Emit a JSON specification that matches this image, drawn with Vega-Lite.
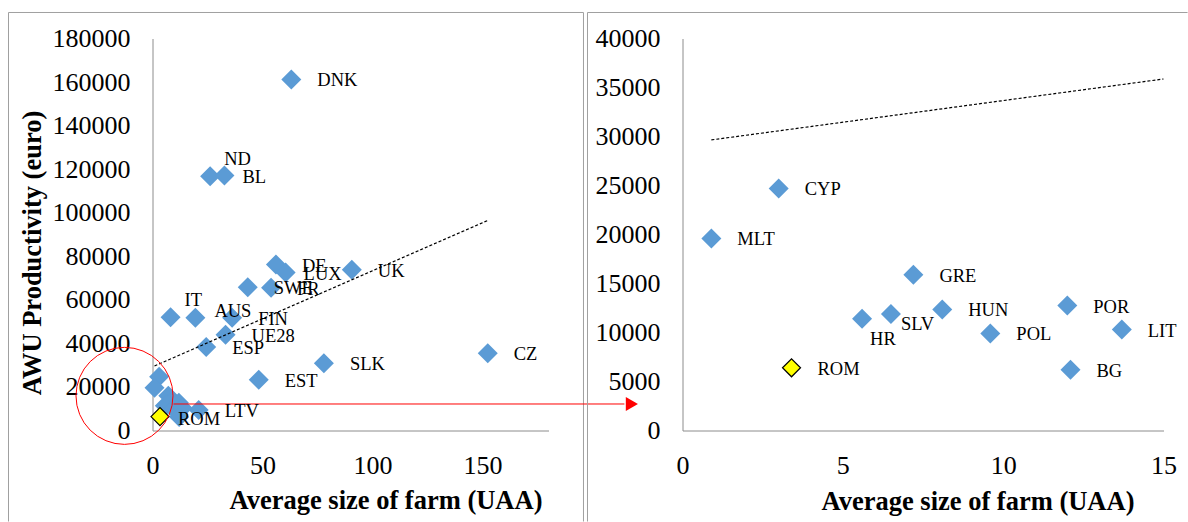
{
  "$schema": "https://vega.github.io/schema/vega-lite/v6.json",
  "background": "white",
  "padding": {"left": 7.5, "top": 11.5, "right": 0, "bottom": 0},
  "bounds": "flush",
  "spacing": 134,
  "config": {
    "view": {"stroke": null},
    "font": "Liberation Serif",
    "axis": {
      "ticks": false,
      "grid": false,
      "domainColor": "#8c8c8c",
      "domainWidth": 1,
      "labelFont": "Liberation Serif",
      "labelFontSize": 26,
      "labelColor": "#000000",
      "labelFlush": false,
      "labelOverlap": false,
      "titleFont": "Liberation Serif",
      "titleFontSize": 26.5,
      "titleFontWeight": "bold",
      "titleColor": "#000000"
    },
    "text": {"font": "Liberation Serif", "fontSize": 18.5, "color": "#000000", "align": "left", "baseline": "middle"}
  },
  "datasets": {
    "farms": [
      {"country": "DNK", "size": 63.1, "productivity": 161200},
      {"country": "ND", "size": 26.2, "productivity": 116800},
      {"country": "BL", "size": 32.7, "productivity": 117100},
      {"country": "DE", "size": 56.1, "productivity": 76200},
      {"country": "LUX", "size": 60.5, "productivity": 72600},
      {"country": "UK", "size": 90.6, "productivity": 73800},
      {"country": "SWE", "size": 43.3, "productivity": 65800},
      {"country": "FR", "size": 53.9, "productivity": 65500},
      {"country": "IT", "size": 8.2, "productivity": 52000},
      {"country": "AUS", "size": 19.5, "productivity": 51800},
      {"country": "FIN", "size": 36.2, "productivity": 51800},
      {"country": "UE28", "size": 33.2, "productivity": 44000},
      {"country": "ESP", "size": 24.4, "productivity": 38300},
      {"country": "SLK", "size": 77.9, "productivity": 30900},
      {"country": "CZ", "size": 152.4, "productivity": 35500},
      {"country": "EST", "size": 48.3, "productivity": 23300},
      {"country": "LTV", "size": 21.0, "productivity": 9400},
      {"country": "CYP", "size": 3.0, "productivity": 24700},
      {"country": "MLT", "size": 0.9, "productivity": 19600},
      {"country": "GRE", "size": 7.2, "productivity": 15900},
      {"country": "HR", "size": 5.6, "productivity": 11400},
      {"country": "SLV", "size": 6.5, "productivity": 11900},
      {"country": "HUN", "size": 8.1, "productivity": 12350},
      {"country": "POL", "size": 9.6, "productivity": 9900},
      {"country": "POR", "size": 12.0, "productivity": 12750},
      {"country": "LIT", "size": 13.7, "productivity": 10300},
      {"country": "BG", "size": 12.1, "productivity": 6200},
      {"country": "ROM", "size": 3.4, "productivity": 6400}
    ],
    "trendAll": [
      {"size": 0.9, "productivity": 29650},
      {"size": 152.4, "productivity": 96460}
    ],
    "trendSmall": [
      {"size": 0.9, "productivity": 29650},
      {"size": 15, "productivity": 35870}
    ]
  },
  "hconcat": [
    {
      "width": 396,
      "height": 392,
      "data": {"name": "farms"},
      "layer": [
        {
          "data": {"values": [{}]},
          "mark": {"type": "rule", "stroke": "#a0a0a0", "strokeWidth": 1},
          "encoding": {"x": {"datum": -65.45}, "y": {"datum": 191940}, "y2": {"datum": -41790}}
        },
        {
          "data": {"values": [{}]},
          "mark": {"type": "rule", "stroke": "#a0a0a0", "strokeWidth": 1},
          "encoding": {"x": {"datum": 195.9}, "y": {"datum": 191940}, "y2": {"datum": -41790}}
        },
        {
          "data": {"values": [{}]},
          "mark": {"type": "rule", "stroke": "#a0a0a0", "strokeWidth": 1},
          "encoding": {"x": {"datum": -65.45}, "x2": {"datum": 195.9}, "y": {"datum": 191940}}
        },
        {
          "transform": [{"filter": "datum.country !== 'ROM'"}],
          "mark": {"type": "point", "shape": "diamond", "filled": true, "size": 400, "opacity": 1, "color": "#5B9BD5"},
          "encoding": {
            "x": {
              "field": "size", "type": "quantitative",
              "scale": {"domain": [0, 180], "nice": false},
              "axis": {
                "values": [0, 50, 100, 150], "format": "d",
                "title": "Average size of farm (UAA)",
                "titleX": 233, "titleY": 78, "titleAlign": "center", "titleBaseline": "alphabetic",
                "labelPadding": 22
              }
            },
            "y": {
              "field": "productivity", "type": "quantitative",
              "scale": {"domain": [0, 180000], "nice": false},
              "axis": {
                "values": [0, 20000, 40000, 60000, 80000, 100000, 120000, 140000, 160000, 180000],
                "format": "d",
                "title": "AWU Productivity (euro)",
                "titleX": -120, "titleY": 214, "titleAngle": 270, "titleAlign": "center", "titleBaseline": "middle",
                "labelPadding": 22.5
              }
            }
          }
        },
        {
          "transform": [{"filter": "datum.country === 'ROM'"}],
          "mark": {"type": "point", "shape": "diamond", "filled": true, "size": 324, "opacity": 1, "fill": "#FFFF00", "stroke": "#000000", "strokeWidth": 1.2},
          "encoding": {"x": {"field": "size", "type": "quantitative"}, "y": {"field": "productivity", "type": "quantitative"}}
        },
        {
          "data": {"name": "trendAll"},
          "mark": {"type": "line", "stroke": "#000000", "strokeWidth": 1.2, "strokeDash": [3, 2]},
          "encoding": {"x": {"field": "size", "type": "quantitative"}, "y": {"field": "productivity", "type": "quantitative"}}
        },
        {
          "data": {"values": [{}]},
          "mark": {"type": "point", "shape": "circle", "filled": false, "size": 9409, "stroke": "#FF0000", "strokeWidth": 1, "opacity": 1},
          "encoding": {"x": {"datum": -12.73}, "y": {"datum": 15900}}
        },
        {
          "data": {"values": [{}]},
          "mark": {"type": "rule", "stroke": "#FF0000", "strokeWidth": 1, "opacity": 1},
          "encoding": {"x": {"datum": 9.55}, "x2": {"datum": 214.5}, "y": {"datum": 12170}}
        },
        {
          "data": {"values": [{}]},
          "mark": {"type": "point", "shape": "triangle-right", "filled": true, "size": 196, "fill": "#FF0000", "opacity": 1},
          "encoding": {"x": {"datum": 217.9}, "y": {"datum": 12170}}
        },
        {
          "transform": [{"filter": {"field": "country", "oneOf": ["DNK", "DE", "SWE", "FR", "UK", "FIN", "UE28", "ESP", "SLK", "CZ", "EST", "LTV"]}}],
          "mark": {"type": "text", "dx": 26, "dy": 1},
          "encoding": {"x": {"field": "size", "type": "quantitative"}, "y": {"field": "productivity", "type": "quantitative"}, "text": {"field": "country"}}
        },
        {
          "transform": [{"filter": {"field": "country", "oneOf": ["ND", "IT"]}}],
          "mark": {"type": "text", "dx": 14, "dy": -17},
          "encoding": {"x": {"field": "size", "type": "quantitative"}, "y": {"field": "productivity", "type": "quantitative"}, "text": {"field": "country"}}
        },
        {
          "transform": [{"filter": {"field": "country", "oneOf": ["AUS"]}}],
          "mark": {"type": "text", "dx": 19, "dy": -7},
          "encoding": {"x": {"field": "size", "type": "quantitative"}, "y": {"field": "productivity", "type": "quantitative"}, "text": {"field": "country"}}
        },
        {
          "transform": [{"filter": {"field": "country", "oneOf": ["BL", "LUX", "ROM"]}}],
          "mark": {"type": "text", "dx": 18, "dy": 2},
          "encoding": {"x": {"field": "size", "type": "quantitative"}, "y": {"field": "productivity", "type": "quantitative"}, "text": {"field": "country"}}
        }
      ]
    },
    {
      "width": 481,
      "height": 392,
      "data": {"name": "farms"},
      "transform": [{"filter": "datum.size <= 15 && datum.productivity <= 40000"}],
      "layer": [
        {
          "data": {"values": [{}]},
          "mark": {"type": "rule", "stroke": "#a0a0a0", "strokeWidth": 1},
          "encoding": {"x": {"datum": -2.963}, "y": {"datum": 42653}, "y2": {"datum": -9286}}
        },
        {
          "data": {"values": [{}]},
          "mark": {"type": "rule", "stroke": "#a0a0a0", "strokeWidth": 1},
          "encoding": {"x": {"datum": -2.963}, "x2": {"datum": 15.75}, "y": {"datum": 42653}}
        },
        {
          "transform": [{"filter": "datum.country !== 'ROM'"}],
          "mark": {"type": "point", "shape": "diamond", "filled": true, "size": 400, "opacity": 1, "color": "#5B9BD5"},
          "encoding": {
            "x": {
              "field": "size", "type": "quantitative",
              "scale": {"domain": [0, 15], "nice": false},
              "axis": {
                "values": [0, 5, 10, 15], "format": "d",
                "title": "Average size of farm (UAA)",
                "titleX": 295, "titleY": 79, "titleAlign": "center", "titleBaseline": "alphabetic",
                "labelPadding": 22
              }
            },
            "y": {
              "field": "productivity", "type": "quantitative",
              "scale": {"domain": [0, 40000], "nice": false},
              "axis": {
                "values": [0, 5000, 10000, 15000, 20000, 25000, 30000, 35000, 40000],
                "format": "d",
                "title": null,
                "labelPadding": 22.5
              }
            }
          }
        },
        {
          "transform": [{"filter": "datum.country === 'ROM'"}],
          "mark": {"type": "point", "shape": "diamond", "filled": true, "size": 324, "opacity": 1, "fill": "#FFFF00", "stroke": "#000000", "strokeWidth": 1.2},
          "encoding": {"x": {"field": "size", "type": "quantitative"}, "y": {"field": "productivity", "type": "quantitative"}}
        },
        {
          "data": {"name": "trendSmall"},
          "mark": {"type": "line", "stroke": "#000000", "strokeWidth": 1.2, "strokeDash": [3, 2]},
          "encoding": {"x": {"field": "size", "type": "quantitative"}, "y": {"field": "productivity", "type": "quantitative"}}
        },
        {
          "transform": [{"filter": {"field": "country", "oneOf": ["CYP", "MLT", "GRE", "HUN", "POL", "POR", "LIT", "BG", "ROM"]}}],
          "mark": {"type": "text", "dx": 26, "dy": 1},
          "encoding": {"x": {"field": "size", "type": "quantitative"}, "y": {"field": "productivity", "type": "quantitative"}, "text": {"field": "country"}}
        },
        {
          "transform": [{"filter": {"field": "country", "oneOf": ["HR"]}}],
          "mark": {"type": "text", "dx": 8, "dy": 20},
          "encoding": {"x": {"field": "size", "type": "quantitative"}, "y": {"field": "productivity", "type": "quantitative"}, "text": {"field": "country"}}
        },
        {
          "transform": [{"filter": {"field": "country", "oneOf": ["SLV"]}}],
          "mark": {"type": "text", "dx": 10, "dy": 10},
          "encoding": {"x": {"field": "size", "type": "quantitative"}, "y": {"field": "productivity", "type": "quantitative"}, "text": {"field": "country"}}
        }
      ]
    }
  ]
}
